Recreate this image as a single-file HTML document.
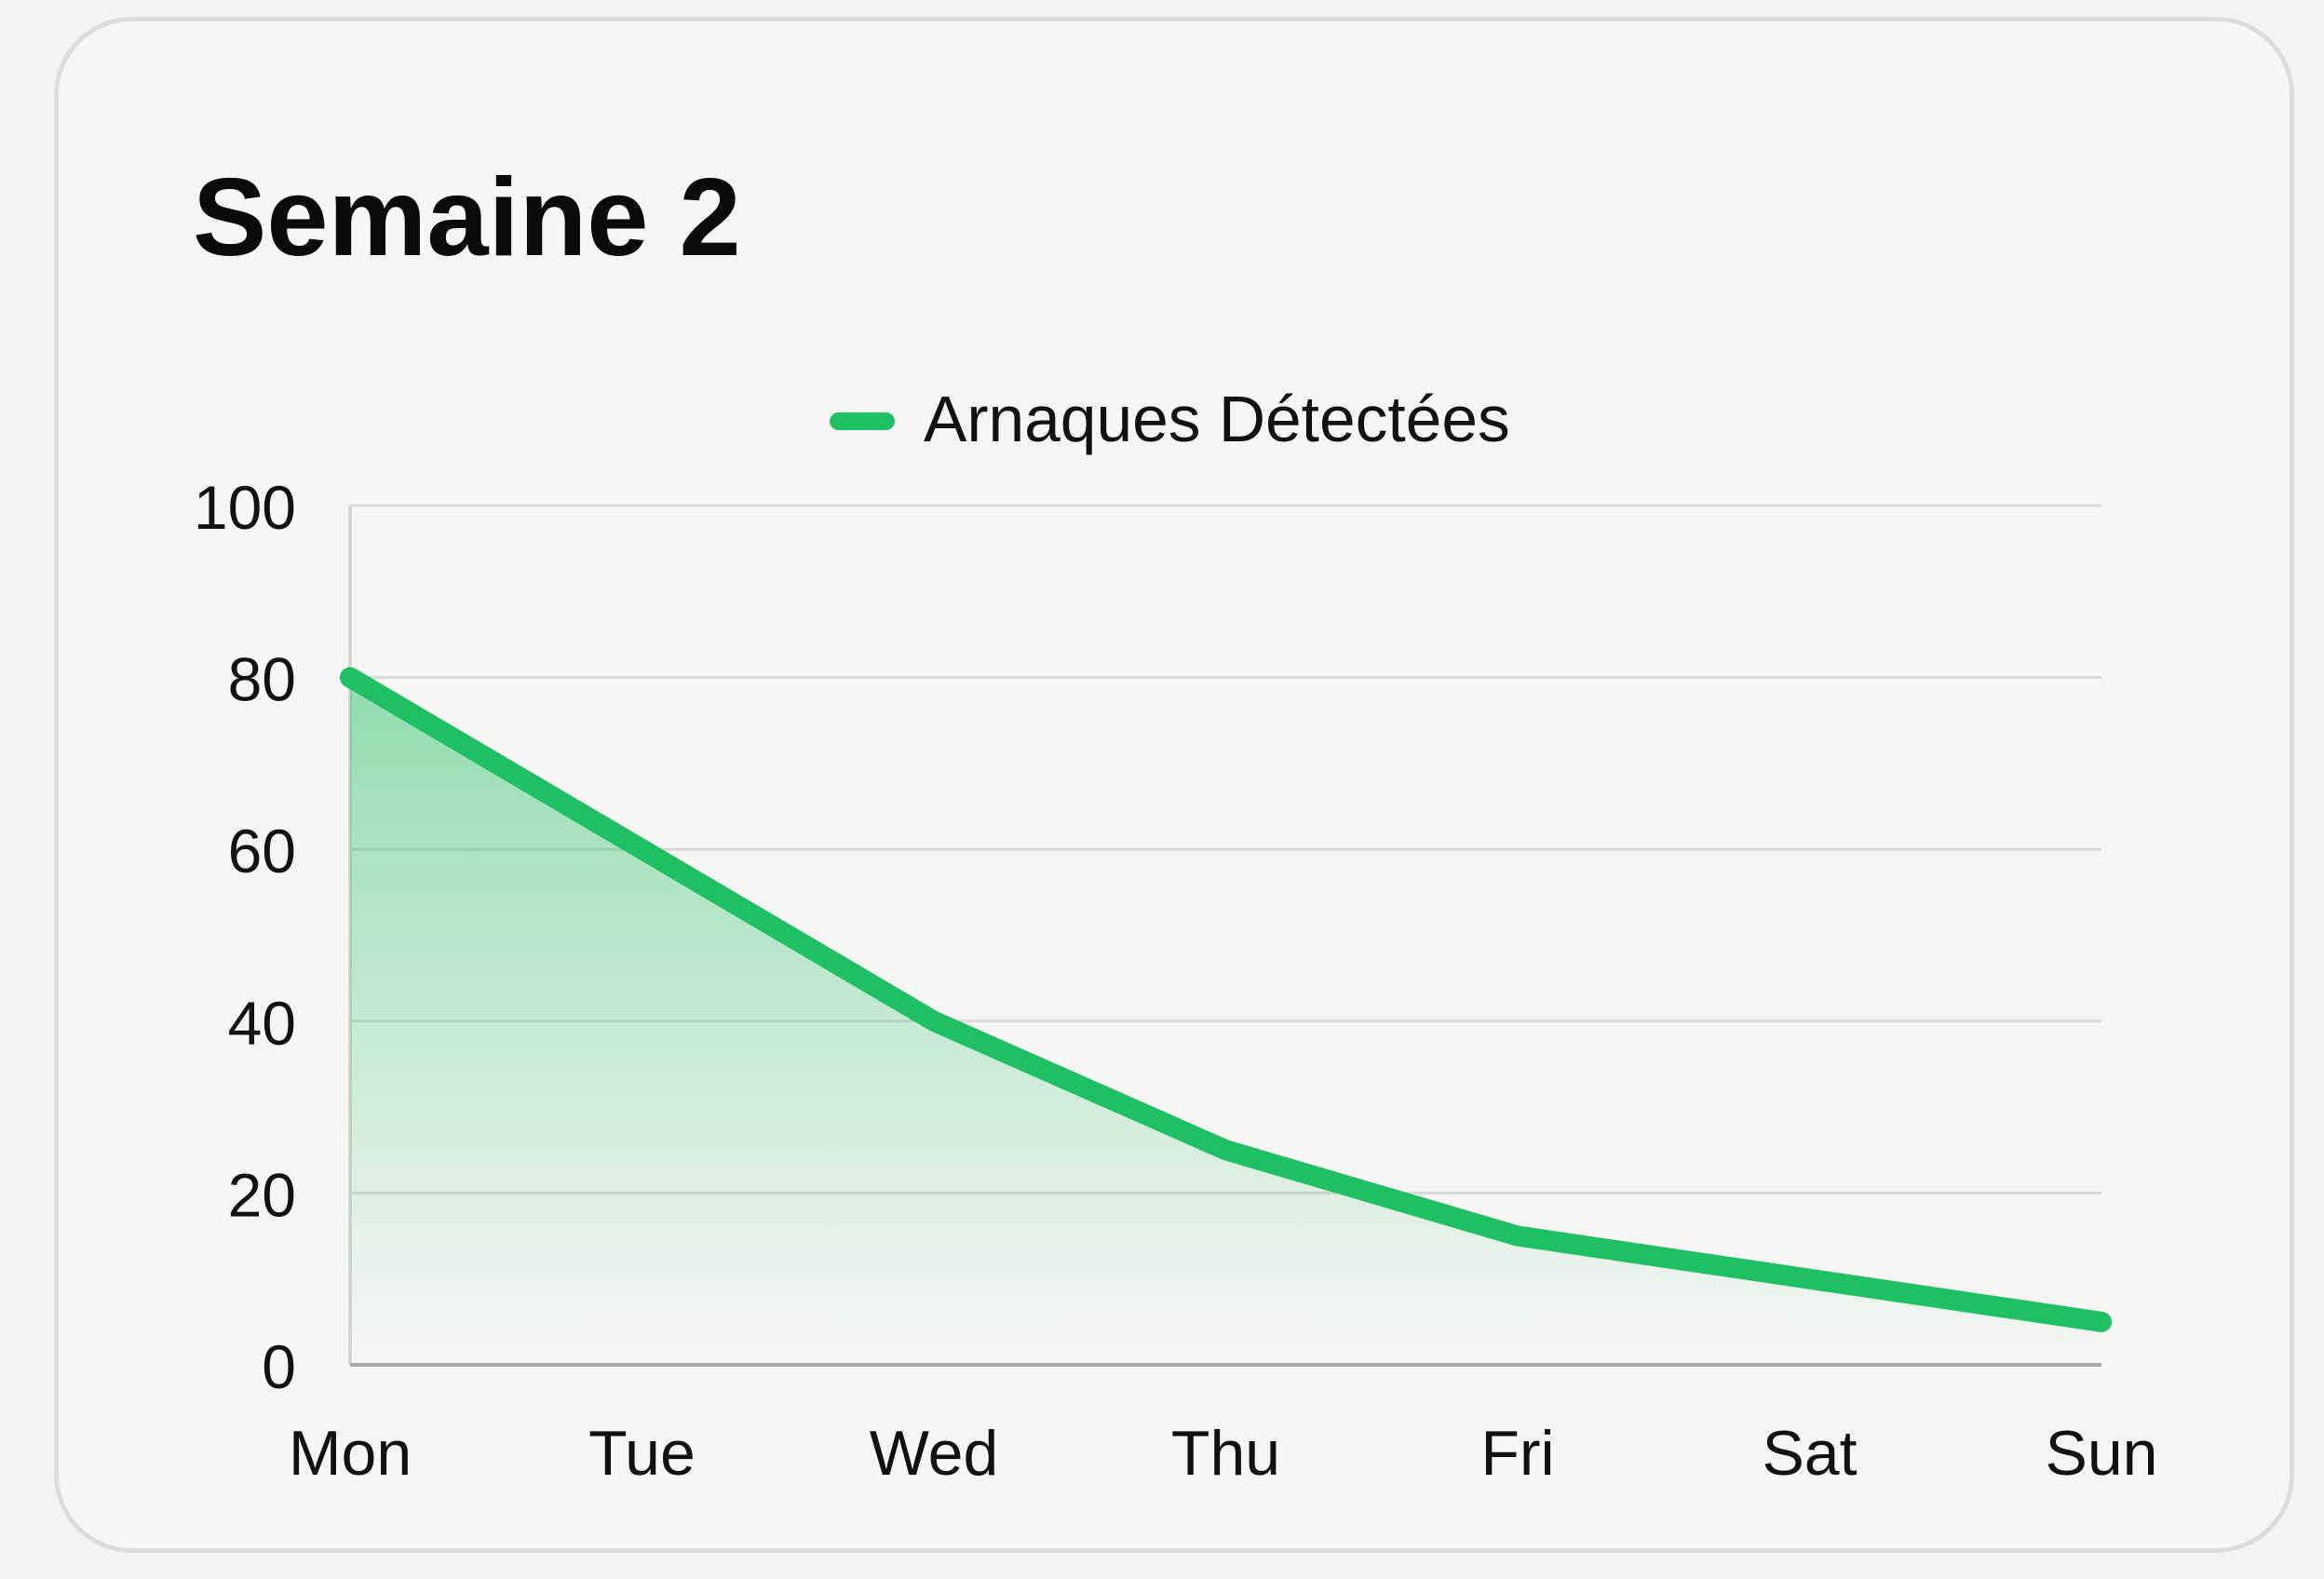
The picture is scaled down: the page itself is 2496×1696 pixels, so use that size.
<!DOCTYPE html>
<html><head><meta charset="utf-8"><style>
html,body{margin:0;padding:0;background:#f3f3f1;width:2496px;height:1696px;overflow:hidden;font-family:"Liberation Sans",Arial,sans-serif;}
#card{position:absolute;left:58px;top:18px;width:2406px;height:1650px;box-sizing:border-box;border:5px solid #dcdcda;border-radius:84px;background:#f6f6f4;}
svg{position:absolute;left:0;top:0;}
</style></head><body>
<div id="card"></div>
<svg id="chart" width="2496" height="1696">
<defs><linearGradient id="fillg" x1="0" y1="0" x2="0" y2="1">
<stop offset="0" stop-color="#22c063" stop-opacity="0.48"/>
<stop offset="0.6" stop-color="#22c063" stop-opacity="0.18"/>
<stop offset="1" stop-color="#22c063" stop-opacity="0.0"/>
</linearGradient></defs>
<text x="207" y="274" font-size="119" font-weight="bold" fill="#0a0a0a">Semaine 2</text>
<rect x="891" y="443" width="70" height="19" rx="9.5" fill="#1fbf64"/>
<text x="992" y="474" font-size="69.5" fill="#111">Arnaques Détectées</text>
</svg>
<script>
const categories=["Mon","Tue","Wed","Thu","Fri","Sat","Sun"];
const seriesValues=[80,60,40,25,15,10,5];
const yTicks=[0,20,40,60,80,100];
const L=376,R=2257,T=543,B=1466,YMAX=100;
const xs=i=>L+(R-L)*i/(categories.length-1);
const ys=v=>B-(B-T)*v/YMAX;
const svg=document.getElementById('chart');
const NS="http://www.w3.org/2000/svg";
function mk(t,a){const e=document.createElementNS(NS,t);for(const k in a)e.setAttribute(k,a[k]);svg.appendChild(e);return e;}
yTicks.forEach(v=>{
  if(v>0){const g=mk('line',{x1:L,x2:R,y1:ys(v),y2:ys(v),stroke:'#d9d9d7','stroke-width':3});
  
  }
  const t=mk('text',{x:318,y:ys(v)+25,'font-size':66,'text-anchor':'end',fill:'#111'});
  t.textContent=v;
  
  
});
const ax=mk('line',{x1:L,x2:L,y1:T,y2:B,stroke:'#d6d6d4','stroke-width':4});


categories.forEach((c,i)=>{
  const t=mk('text',{x:xs(i),y:1584,'font-size':68,'text-anchor':'middle',fill:'#111'});
  t.textContent=c;
  
  
});
let pts=seriesValues.map((v,i)=>xs(i)+','+ys(v)).join(' ');
const area=mk('polygon',{points:L+','+B+' '+pts+' '+R+','+B,fill:'url(#fillg)'});


const base=mk('line',{x1:L,x2:R,y1:B,y2:B,stroke:'#a8a8a6','stroke-width':4});


const line=mk('polyline',{points:pts,fill:'none',stroke:'#1fbf64','stroke-width':22,'stroke-linejoin':'round','stroke-linecap':'round'});


</script>
</body></html>
